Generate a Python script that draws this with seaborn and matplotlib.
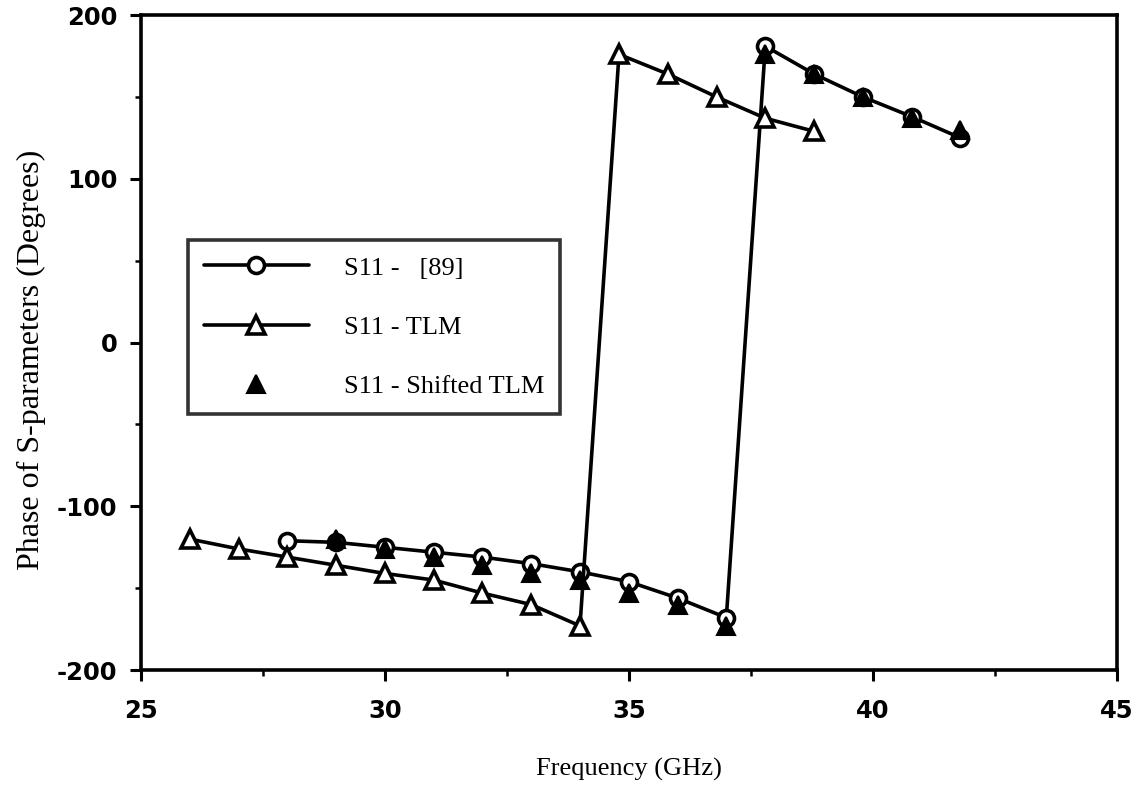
import matplotlib
matplotlib.use("Agg")
import matplotlib.pyplot as plt
import seaborn as sns
import pandas as pd
from matplotlib.ticker import MultipleLocator

# S11 phase, reference model [89]
ref_freq = [28, 29, 30, 31, 32, 33, 34, 35, 36, 37,
            37.8, 38.8, 39.8, 40.8, 41.8]
ref_phase = [-121, -122, -125, -128, -131, -135, -140, -146, -156, -168,
             181, 164, 150, 138, 125]

# S11 phase, TLM simulation
tlm_freq = [26, 27, 28, 29, 30, 31, 32, 33, 34,
            34.8, 35.8, 36.8, 37.8, 38.8]
tlm_phase = [-120, -126, -131, -136, -141, -145, -153, -160, -173,
             176, 164, 150, 137, 129]

# S11 phase, TLM shifted in frequency
shift_freq = [29, 30, 31, 32, 33, 34, 35, 36, 37,
              37.8, 38.8, 39.8, 40.8, 41.8]
shift_phase = [-120, -126, -131, -136, -141, -145, -153, -160, -173,
               176, 164, 150, 137, 130]

labels = ["S11 -   [89]", "S11 - TLM", "S11 - Shifted TLM"]
x_label = "Frequency (GHz)"
y_label = "Phase of S-parameters (Degrees)"

sns.set_theme(style="ticks")
plt.rcParams["font.family"] = ["Liberation Serif", "DejaVu Serif"]
plt.rcParams["axes.unicode_minus"] = False

fig = plt.figure(figsize=(11.37, 7.93), dpi=100)
ax = fig.add_axes([0.124, 0.155, 0.858, 0.826])

ref_df = pd.DataFrame({"f": ref_freq, "p": ref_phase})
tlm_df = pd.DataFrame({"f": tlm_freq, "p": tlm_phase})
shift_df = pd.DataFrame({"f": shift_freq, "p": shift_phase})

sns.lineplot(data=ref_df, x="f", y="p", ax=ax, color="black", lw=2.6,
             marker="o", markersize=11.5, markerfacecolor="white",
             markeredgecolor="black", markeredgewidth=2.6,
             sort=False, label=labels[0], zorder=3)
sns.lineplot(data=tlm_df, x="f", y="p", ax=ax, color="black", lw=2.6,
             marker="^", markersize=12.5, markerfacecolor="white",
             markeredgecolor="black", markeredgewidth=2.6,
             sort=False, label=labels[1], zorder=3)
sns.lineplot(data=shift_df, x="f", y="p", ax=ax, color="black",
             linestyle="", marker="^", markersize=12.5,
             markerfacecolor="black", markeredgecolor="black",
             markeredgewidth=1.5, sort=False, label=labels[2], zorder=4)

ax.set_xlim(25, 45)
ax.set_ylim(-200, 200)
ax.xaxis.set_major_locator(MultipleLocator(5))
ax.xaxis.set_minor_locator(MultipleLocator(2.5))
ax.yaxis.set_major_locator(MultipleLocator(100))
ax.yaxis.set_minor_locator(MultipleLocator(50))
ax.tick_params(which="major", direction="out", length=8, width=2.2,
               color="black", labelcolor="black")
ax.tick_params(which="minor", direction="out", length=4, width=1.8,
               color="black")
ax.tick_params(axis="x", which="major", pad=13)
ax.tick_params(axis="y", which="major", pad=9)
for lbl in ax.get_xticklabels() + ax.get_yticklabels():
    lbl.set_family("DejaVu Sans")
    lbl.set_fontweight("bold")
    lbl.set_fontsize(17.5)

for side in ["top", "right", "bottom", "left"]:
    ax.spines[side].set_visible(True)
    ax.spines[side].set_color("black")
    ax.spines[side].set_linewidth(2.6)

ax.set_xlabel(x_label, fontsize=19, color="black", labelpad=25)
ax.set_ylabel(y_label, fontsize=23, color="black")
ax.yaxis.set_label_coords(-0.097, 0.473)

leg = ax.legend(loc="upper left", bbox_to_anchor=(0.048, 0.656),
                fontsize=19, frameon=True, fancybox=False,
                handlelength=4.0, handletextpad=1.3, labelspacing=1.35,
                borderpad=0.6, borderaxespad=0)
leg.get_frame().set_edgecolor("black")
leg.get_frame().set_linewidth(2.6)
for t in leg.get_texts():
    t.set_color("black")

fig.savefig("out.png", dpi=100, facecolor="white")
